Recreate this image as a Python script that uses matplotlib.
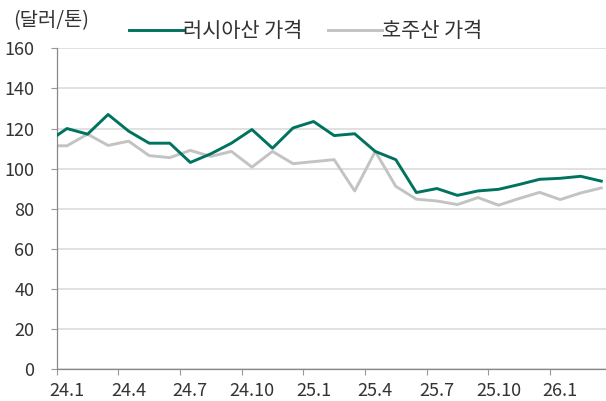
import numpy as np
import matplotlib.pyplot as plt

plt.rcParams['font.family'] = ['Noto Sans CJK KR', 'DejaVu Sans']

# 월별 가격 (23.12 ~ 26.3), 단위: 달러/톤
months = ['23.12', '24.1', '24.2', '24.3', '24.4', '24.5', '24.6', '24.7', '24.8', '24.9',
          '24.10', '24.11', '24.12', '25.1', '25.2', '25.3', '25.4', '25.5', '25.6', '25.7',
          '25.8', '25.9', '25.10', '25.11', '25.12', '26.1', '26.2', '26.3']
russia = [113.0, 120.0, 117.2, 127.0, 118.7, 112.7, 112.7, 103.1, 107.4, 112.7,
          119.5, 110.2, 120.3, 123.5, 116.5, 117.4, 108.6, 104.5, 88.1, 90.1,
          86.7, 88.9, 89.7, 92.1, 94.7, 95.2, 96.2, 93.8]
australia = [111.4, 111.4, 117.2, 111.6, 113.7, 106.5, 105.5, 109.1, 106.1, 108.6,
             100.8, 108.6, 102.5, 103.5, 104.5, 88.9, 108.6, 91.2, 84.8, 83.9,
             82.1, 85.6, 81.8, 85.1, 88.2, 84.6, 87.9, 90.4]
tick_labels = ['24.1', '24.4', '24.7', '24.10', '25.1', '25.4', '25.7', '25.10', '26.1']

green = '#00735F'
grey = '#C3C3C3'
text_c = '#333333'

fig = plt.figure(figsize=(6.06, 4.01), dpi=100)
ax = fig.add_axes([0.0936, 0.079, 0.9064, 0.8006])

# 월 중앙에 점 찍기 (24.1 = 0)
x = np.arange(len(months)) - 1 + 0.5
ax.plot(x, russia, color=green, lw=2.1, label='러시아산 가격', zorder=3)
ax.plot(x, australia, color=grey, lw=2.1, label='호주산 가격', zorder=2)

ax.set_xlim(0, 26.73)
ax.set_ylim(0, 160)
ax.set_yticks(range(0, 161, 20))
ax.yaxis.grid(True, color='#D9D9D9', lw=1.1)
ax.set_axisbelow(True)

# 눈금은 분기 시작, 라벨은 월 중앙
major = np.arange(0, 25, 3)
ax.set_xticks(major)
ax.set_xticklabels([])
ax.set_xticks(major + 0.5, minor=True)
ax.set_xticklabels(tick_labels, minor=True)
ax.tick_params(axis='x', which='major', length=4, width=0.8, color='#999999', direction='out')
ax.tick_params(axis='x', which='minor', length=0, pad=9, labelsize=13, labelcolor=text_c)
ax.tick_params(axis='y', length=4, width=0.8, color='#999999', labelsize=13,
               labelcolor=text_c, pad=12)

for s in ['top', 'right']:
    ax.spines[s].set_visible(False)
for s in ['left', 'bottom']:
    ax.spines[s].set_color('#888888')
    ax.spines[s].set_linewidth(0.9)

fig.text(0.021, 0.948, '(달러/톤)', fontsize=14.3, color=text_c, va='center', ha='left')

ax.legend(loc='center left', ncol=2, frameon=False, fontsize=15, handlelength=2.6,
          handletextpad=0.0, columnspacing=1.2, labelcolor=text_c,
          borderpad=0, borderaxespad=0)
leg = ax.get_legend()
leg.set_bbox_to_anchor((129 / 606, 1 - 31 / 401), transform=fig.transFigure)

fig.savefig('out.png', dpi=100)
